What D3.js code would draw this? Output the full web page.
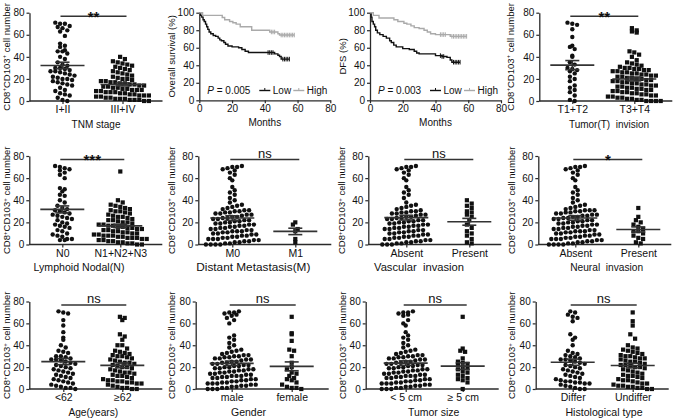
<!DOCTYPE html>
<html><head><meta charset="utf-8">
<script src="https://cdn.jsdelivr.net/npm/d3@7"></script>
<style>
body{margin:0;background:#fff;}
svg{display:block;font-family:"Liberation Sans",Arial,sans-serif;}
</style>
</head><body><svg id="c" width="676" height="419"></svg>
<script>
// ---------------- DATA ----------------
const yTicks = [0, 20, 40, 60, 80];
const kmXTicks = [0, 20, 40, 60, 80];
const kmYTicks = [0, 20, 40, 60, 80, 100];

const tnmLabels = ["I+II", "III+IV"];
const tnmEarly = [71,70,70,68,67,66,64,63,59,52,50,49,46,45,45,43,40,38,35,33,32,30,30,29,28,27,27,26,25,24,23,22,21,20,20,19,18,17,16,15,14,12,10,9,7,6,5,3,1,0];
const tnmLate = [40,38,36,35,34,33,32,31,30,29,28,27,26,25,24,23,22,21,20,20,19,18,18,17,17,16,16,15,15,14,14,13,13,12,12,11,11,10,10,10,9,9,8,8,8,7,7,6,6,5,5,5,4,4,3,3,2,2,2,1,1,1,0,0];

const tLabels = ["T1+T2", "T3+T4"];
const tT12 = [71,70,69,65,58,50,49,47,41,40,35,33,30,29,28,27,25,22,20,18,14,12,10,8,5,1,0];
const tT34 = [66,64,63,62,45,44,42,40,37,35,34,33,32,31,30,30,29,29,28,28,27,27,26,26,25,25,24,24,23,23,22,22,21,21,20,20,19,19,18,18,17,17,16,16,15,15,14,14,13,13,12,12,11,11,10,10,9,9,8,8,7,7,6,6,5,5,4,4,3,3,2,2,1,1,0,0,0,0];

const nLabels = ["N0", "N1+N2+N3"];
const nN0 = [71,70,69,68,67,65,63,60,51,50,48,45,44,40,38,35,33,32,31,30,29,28,27,26,25,24,23,22,20,19,18,17,16,15,13,12,10,9,8,7,5,5,4,4];
const nN123 = [66,40,38,36,35,34,33,32,31,30,30,29,28,27,26,25,25,24,23,22,22,21,20,20,19,18,18,17,17,16,16,15,15,14,14,13,13,12,12,11,11,10,10,9,9,8,8,8,7,7,6,6,6,5,5,4,4,3,3,2,2,1,1,0,0];

const mLabels = ["M0", "M1"];
const mM0 = [0,0,0,0,1,1,2,2,3,3,4,4,5,5,5,6,6,7,7,8,8,9,9,10,10,11,11,12,12,12,13,13,14,14,15,15,16,16,17,17,18,18,19,19,20,20,21,21,22,22,23,23,24,24,25,25,26,27,27,28,28,29,29,30,30,31,31,32,33,34,35,36,38,40,42,45,47,49,52,58,60,63,65,67,68,69,70,70,71];
const mM1 = [20,18,14,12,5,2];

const vLabels = ["Absent", "Present"];
const vAbsent = [0,0,0,1,1,2,2,3,3,4,4,5,5,6,6,7,7,8,8,9,9,10,10,11,11,12,12,13,13,14,14,15,15,16,16,17,17,18,18,19,19,20,20,21,21,22,22,23,23,24,24,25,25,26,27,27,28,28,29,29,30,30,31,32,33,34,35,36,38,42,45,47,49,52,58,60,63,65,67,68,69,70,70,71];
const vPresent = [40,37,35,33,30,29,27,25,22,18,15,12,10,8,5,2,1];

const neLabels = ["Absent", "Present"];
const neAbsent = [0,0,0,0,1,1,2,2,3,3,4,4,5,5,5,6,6,7,7,8,8,9,9,10,10,11,11,12,12,12,13,13,14,14,15,15,16,16,17,17,18,18,19,19,20,20,21,21,22,22,23,23,24,24,25,25,26,26,27,27,28,28,29,29,30,30,31,31,31,32,33,34,35,36,38,40,42,45,47,49,52,58,60,63,65,67,68,69,70,70,71];
const nePresent = [33,25,22,20,18,16,14,12,12,10,8,6,5,2,1];

const ageLabels = ["<62", "\u226562"];
const ageYoung = [71,70,69,63,58,52,47,45,40,38,35,34,33,30,30,29,28,27,27,26,25,24,23,22,21,20,19,18,17,16,15,14,13,12,11,10,9,8,7,6,5,4,3,2,1,1,0];
const ageOld = [66,65,63,50,48,45,40,40,37,35,34,33,32,31,30,30,29,28,27,26,25,24,24,23,22,21,20,20,19,18,17,16,15,15,14,13,12,12,11,10,9,8,8,7,7,6,6,5,5,4,3,2,1,1,0,0];

const gLabels = ["male", "female"];
const gMale = [0,0,0,1,1,2,2,3,3,4,4,5,5,5,6,6,7,7,8,8,9,9,10,10,11,11,12,12,12,13,13,14,14,15,15,16,16,17,17,18,18,19,19,20,20,21,21,22,22,23,23,24,24,25,25,26,27,27,28,28,29,29,30,30,31,31,32,33,34,35,36,38,40,42,45,47,49,60,63,65,67,68,69,70,70,71];
const gFemale = [66,51,50,44,36,35,30,24,20,18,15,14,12,10,9,8,6,4,2,1,1,0];

const sLabels = ["< 5 cm", "\u2265 5 cm"];
const sSmall = [0,0,0,1,1,2,2,3,3,4,4,5,5,5,6,6,7,7,8,8,9,9,10,10,11,11,12,12,12,13,13,14,14,15,15,16,16,17,17,18,18,19,19,20,20,21,21,22,22,23,23,24,24,25,25,26,27,27,28,28,29,29,30,30,31,31,32,33,34,35,36,38,40,42,45,47,49,52,58,60,63,67,68,69,70,70,71];
const sLarge = [66,37,35,34,28,25,24,23,22,20,19,18,16,15,13,12,10,9,8,6,0];

const hLabels = ["Differ", "Undiffer"];
const hDiff = [71,70,68,66,65,62,50,47,45,40,35,33,32,31,30,29,28,27,27,26,25,24,23,22,21,20,19,18,17,16,15,14,13,12,11,10,9,8,7,7,6,6,5,5,4,3,2,1,0,0];
const hUndiff = [70,62,58,50,46,40,38,37,36,35,34,33,32,31,30,30,29,28,28,27,26,25,25,24,23,22,22,21,20,20,19,18,17,16,15,14,13,12,12,11,10,9,8,8,7,6,5,5,4,3,3,2,2,1,1,0,0];

// Kaplan-Meier step data (months, % surviving)
const osLowT = [0,0.8,1.5,2.3,3,3.8,4.5,5.2,6,7,8.5,10,11.5,12.5,13.5,15,16,17.5,20,24,26,28,30,46,48,49,50,55];
const osLowS = [100,97,95,92,90,87,84,81,78,76,74,73,71,69,68,66,64,62,61,60,58,56,54.5,53,51.5,50,47,47];
const osLowCens = [42,43,44,45,51,52,53,54,55];
const osHighT = [0,2,14,15.5,18.5,20.5,22.5,25,32,43,48,49,58];
const osHighS = [100,97,94.5,92,90,88.5,87,84,80,78,76,74.5,74.5];
const osHighCens = [44,45,46,50,51,52,53,54,55,56,57,58];

const dfsLowT = [0,0.7,1.2,2,2.8,3.5,4.5,6,8,10,12,13,14.5,16,20,24,27,28.5,30,40,44,47,49,50,55];
const dfsLowS = [100,95,90,87,84,80,77,75,73,71,68,66,63,61,59,58,56,54,53,51,50,49,46,43.5,43.5];
const dfsLowCens = [43,44,45,51,52,53,54,55];
const dfsHighT = [0,2,5.5,14.6,17,20.7,22.5,25,27,30,33,35,37,40,49,59];
const dfsHighS = [100,97,94,92,90,88,87,85,83,82,80,78,76,75,73,73];
const dfsHighCens = [43,44,45,46,50,51,52,53,54,55,56,57,58,59];

// ---------------- DRAWING ----------------
const svg = d3.select("#c");
const INK = "#111", LINE = "#2a2a2a";

const rows = [{top: 12.7, bot: 101}, {top: 156, bot: 244.5}, {top: 301.5, bot: 389}];

function yTitle(x, yc, size) {
  const t = svg.append("text")
    .attr("transform", `translate(${x + 0.35 * size},${yc}) rotate(-90)`)
    .attr("text-anchor", "middle").attr("font-size", size).attr("fill", INK);
  t.append("tspan").text("CD8");
  t.append("tspan").attr("dy", -3.5).attr("font-size", size * 0.65).text("+");
  t.append("tspan").attr("dy", 3.5).text("CD103");
  t.append("tspan").attr("dy", -3.5).attr("font-size", size * 0.65).text("+");
  t.append("tspan").attr("dy", 3.5).text(" cell number");
}

function styleAxis(g) {
  g.selectAll("path.domain").attr("stroke", LINE).attr("stroke-width", 1.3);
  g.selectAll(".tick line").attr("stroke", LINE).attr("stroke-width", 1.2);
  g.selectAll(".tick text").attr("fill", INK).attr("font-size", 10).attr("font-family", "Liberation Sans, Arial, sans-serif");
}

// Prism-style scatter layout: points in the same horizontal band are spread side by side
function swarm(vals, y, dx, bh) {
  const y0 = y(0);
  const pts = vals.map(v => ({v, y: y(v), dx: 0}));
  const bins = d3.group(pts, p => Math.floor((y0 - p.y) / bh));
  for (const [, arr] of bins) {
    const n = arr.length;
    arr.forEach((p, i) => { p.dx = (i - (n - 1) / 2) * dx; });
  }
  return pts;
}

function scatterPanel(cfg) {
  const r = rows[cfg.row];
  const ax = cfg.ax;
  const y = d3.scaleLinear().domain([0, 80]).range([r.bot, r.top]);
  const x = d3.scaleOrdinal().domain(cfg.labels).range([ax + cfg.cat[0], ax + cfg.cat[1]]);
  const gy = svg.append("g").attr("transform", `translate(${ax},0)`)
    .call(d3.axisLeft(y).tickValues(yTicks).tickSize(3).tickSizeOuter(0).tickPadding(2));
  styleAxis(gy);
  svg.append("line").attr("x1", ax).attr("x2", ax + 133).attr("y1", r.bot).attr("y2", r.bot)
    .attr("stroke", LINE).attr("stroke-width", 1.3);
  const gx = svg.append("g").attr("transform", `translate(0,${r.bot})`)
    .call(d3.axisBottom(x).tickSize(3).tickPadding(2));
  gx.select("path.domain").remove();
  styleAxis(gx);
  gx.selectAll(".tick text").attr("font-size", 10.5);
  svg.append("text").attr("x", ax + cfg.tc).attr("y", r.bot + 26.5).attr("text-anchor", "middle")
    .attr("font-size", cfg.ts).attr("fill", INK).style("white-space", "pre").text(cfg.title);
  yTitle(cfg.tx, (r.top + r.bot) / 2, 9.5);
  cfg.groups.forEach((vals, gi) => {
    const cx = x(cfg.labels[gi]);
    const pts = swarm(vals, y, 4.8, 5);
    if (gi === 0) {
      svg.append("g").selectAll("circle").data(pts).join("circle")
        .attr("cx", p => cx + p.dx).attr("cy", p => p.y).attr("r", 2.2).attr("fill", INK);
    } else {
      svg.append("g").selectAll("rect").data(pts).join("rect")
        .attr("x", p => cx + p.dx - 2.1).attr("y", p => p.y - 2.1).attr("width", 4.2).attr("height", 4.2).attr("fill", INK);
    }
    const m = d3.mean(vals), se = d3.deviation(vals) / Math.sqrt(vals.length);
    const g = svg.append("g").attr("stroke", "#333").attr("stroke-width", 1.6);
    g.append("line").attr("x1", cx - 22).attr("x2", cx + 22).attr("y1", y(m)).attr("y2", y(m));
    g.append("line").attr("x1", cx).attr("x2", cx).attr("y1", y(m - se)).attr("y2", y(m + se));
    g.append("line").attr("x1", cx - 7).attr("x2", cx + 7).attr("y1", y(m - se)).attr("y2", y(m - se));
    g.append("line").attr("x1", cx - 7).attr("x2", cx + 7).attr("y1", y(m + se)).attr("y2", y(m + se));
  });
  const x1 = x(cfg.labels[0]), x2 = x(cfg.labels[1]);
  const by = y(80) + 3.5;
  svg.append("line").attr("x1", x1 - 2).attr("x2", x2 + 4).attr("y1", by).attr("y2", by)
    .attr("stroke", "#333").attr("stroke-width", 1.5);
  const st = svg.append("text").attr("x", (x1 + x2) / 2 + 1).attr("text-anchor", "middle").attr("fill", INK).text(cfg.sig);
  if (cfg.sig === "ns") st.attr("y", by - 2).attr("font-size", 13);
  else st.attr("y", by + 5.5).attr("font-size", 15).attr("font-weight", "bold");
}

function stepAt(T, S, t) {
  let s = S[0];
  for (let i = 0; i < T.length; i++) if (T[i] <= t) s = S[i];
  return s;
}

function kmPanel(cfg) {
  const r = rows[0];
  const ax = cfg.ax;
  const x = d3.scaleLinear().domain([0, 80]).range([ax, ax + 131]);
  const y = d3.scaleLinear().domain([0, 100]).range([100.3, r.top]);
  const gy = svg.append("g").attr("transform", `translate(${ax},0)`)
    .call(d3.axisLeft(y).tickValues(kmYTicks).tickSize(3).tickSizeOuter(0).tickPadding(2));
  styleAxis(gy);
  const gx = svg.append("g").attr("transform", `translate(0,100.3)`)
    .call(d3.axisBottom(x).tickValues(kmXTicks).tickSize(3).tickSizeOuter(0).tickPadding(2));
  styleAxis(gx);
  svg.append("text").attr("x", ax + 65.5).attr("y", 126).attr("text-anchor", "middle")
    .attr("font-size", 10).attr("fill", INK).text("Months");
  svg.append("text").attr("transform", `translate(${cfg.tx + 3.3},${(r.top + 100) / 2}) rotate(-90)`)
    .attr("text-anchor", "middle").attr("font-size", 9.5).attr("fill", INK).text(cfg.ytitle);
  const line = d3.line().x(d => x(d[0])).y(d => y(d[1])).curve(d3.curveStepAfter);
  cfg.series.forEach(s => {
    const pts = s.T.map((t, i) => [t, s.S[i]]);
    svg.append("path").attr("d", line(pts)).attr("fill", "none").attr("stroke", s.color).attr("stroke-width", 1.4);
    svg.append("g").selectAll("line").data(s.C).join("line")
      .attr("x1", t => x(t)).attr("x2", t => x(t))
      .attr("y1", t => y(stepAt(s.T, s.S, t)) - 2.3).attr("y2", t => y(stepAt(s.T, s.S, t)) + 2.3)
      .attr("stroke", s.color).attr("stroke-width", 1);
  });
  const ly = 94;
  const pt = svg.append("text").attr("x", ax + 8).attr("y", ly).attr("font-size", 10).attr("fill", INK);
  pt.append("tspan").attr("font-style", "italic").text("P");
  pt.append("tspan").text(" = " + cfg.p);
  [[cfg.series[0], 60, "Low"], [cfg.series[1], 94, "High"]].forEach(([s, dx, lab]) => {
    svg.append("line").attr("x1", ax + dx).attr("x2", ax + dx + 11).attr("y1", ly - 3.5).attr("y2", ly - 3.5)
      .attr("stroke", s.color).attr("stroke-width", 1.4);
    svg.append("line").attr("x1", ax + dx + 5.5).attr("x2", ax + dx + 5.5).attr("y1", ly - 6).attr("y2", ly - 3.5)
      .attr("stroke", s.color).attr("stroke-width", 1);
    svg.append("text").attr("x", ax + dx + 13.5).attr("y", ly).attr("font-size", 10).attr("fill", INK).text(lab);
  });
}

kmPanel({ax: 199.3, tx: 171.7, ytitle: "Overall survival (%)", p: "0.005",
  series: [{T: osLowT, S: osLowS, C: osLowCens, color: "#111"}, {T: osHighT, S: osHighS, C: osHighCens, color: "#aaa"}]});
kmPanel({ax: 370, tx: 342.3, ytitle: "DFS (%)", p: "0.003",
  series: [{T: dfsLowT, S: dfsLowS, C: dfsLowCens, color: "#111"}, {T: dfsHighT, S: dfsHighS, C: dfsHighCens, color: "#aaa"}]});

const scatterPanels = [
  {row: 0, ax: 29.5, tx: 6.3, cat: [33, 93], tc: 66.5, ts: 10, labels: tnmLabels, groups: [tnmEarly, tnmLate], title: "TNM stage", sig: "**"},
  {row: 0, ax: 539.3, tx: 510.5, cat: [33, 95], tc: 69.7, ts: 10, labels: tLabels, groups: [tT12, tT34], title: "Tumor(T)  invision", sig: "**"},
  {row: 1, ax: 29.3, tx: 7, cat: [33, 91], tc: 49.7, ts: 10.6, labels: nLabels, groups: [nN0, nN123], title: "Lymphoid Nodal(N)", sig: "***"},
  {row: 1, ax: 198.3, tx: 171.3, cat: [34, 97], tc: 55, ts: 11.8, labels: mLabels, groups: [mM0, mM1], title: "Distant Metastasis(M)", sig: "ns"},
  {row: 1, ax: 368.3, tx: 341.7, cat: [38, 101], tc: 50.7, ts: 11.2, labels: vLabels, groups: [vAbsent, vPresent], title: "Vascular  invasion", sig: "ns"},
  {row: 1, ax: 538.3, tx: 511.3, cat: [37, 100], tc: 68.4, ts: 10.2, labels: neLabels, groups: [neAbsent, nePresent], title: "Neural  invasion", sig: "*"},
  {row: 2, ax: 29.3, tx: 6.7, cat: [34, 93], tc: 64, ts: 10.2, labels: ageLabels, groups: [ageYoung, ageOld], title: "Age(years)", sig: "ns"},
  {row: 2, ax: 195.7, tx: 172, cat: [36, 96], tc: 52.8, ts: 10.5, labels: gLabels, groups: [gMale, gFemale], title: "Gender", sig: "ns"},
  {row: 2, ax: 365.7, tx: 342.3, cat: [40, 97], tc: 68, ts: 10.5, labels: sLabels, groups: [sSmall, sLarge], title: "Tumor size", sig: "ns"},
  {row: 2, ax: 535.7, tx: 511.7, cat: [37, 97], tc: 68.3, ts: 10.6, labels: hLabels, groups: [hDiff, hUndiff], title: "Histological type", sig: "ns"}
];
scatterPanels.forEach(scatterPanel);
</script></body></html>
